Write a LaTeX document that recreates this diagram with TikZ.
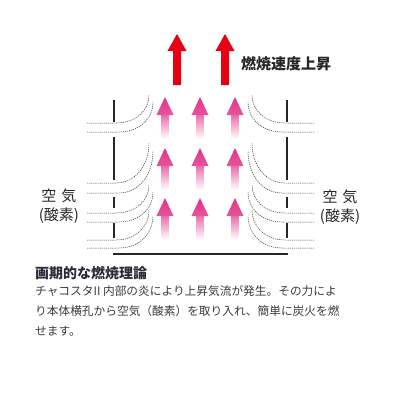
\documentclass[tikz,border=0pt]{standalone}
\usepackage{fontspec}
\setmainfont{Noto Sans CJK JP}
\usetikzlibrary{positioning}
\definecolor{flame}{HTML}{E60012}
\definecolor{rosa}{HTML}{E2358A}
\definecolor{ink}{HTML}{3A3A3A}
\definecolor{headink}{HTML}{2E2A3A}

\begin{document}
\begin{tikzpicture}[x=1pt, y=-1pt,
			every node/.style={inner sep=0pt, text=ink},
			wall/.style={line width=1.3pt, black!85},
			air/.style={dash pattern=on 1.2pt off 0.9pt, line width=0.5pt, black!78},
			airtext/.style={align=center, font=\fontsize{15}{19}\selectfont, text=black!85}]
		\useasboundingbox (0,0) rectangle (400,400);

		\foreach \cx in {177,225}
			\fill[flame] (\cx-4,85) -- (\cx-4,51) -- (\cx-9.5,51) -- (\cx,34)
				-- (\cx+9.5,51) -- (\cx+4,51) -- (\cx+4,85) -- cycle;
		\node[anchor=west, font=\fontsize{15}{15}\selectfont\bfseries, text=black!85] (rate) at (241,64) {燃焼速度上昇};

		\foreach \cx in {165,200,235}
			\foreach \ty in {97,148,198} {
				\shade[top color=rosa!75!white, bottom color=white] (\cx-3.5,\ty+17) rectangle (\cx+3.5,\ty+42);
				\shade[top color=rosa, bottom color=rosa!85!white] (\cx-8.5,\ty+18) -- (\cx,\ty) -- (\cx+8.5,\ty+18) -- cycle;
			}

		\foreach \side in {0,1} {
			\begin{scope}[xshift=\side*401pt, xscale=1-2*\side]
				\foreach \a/\b in {100/122, 137/180, 197/208, 223/238}
					\draw[wall] (114,\a) -- (114,\b);
				\foreach \yy/\xa/\xt/\rr in {123/116/149/28, 132/119/153/30, 183/116/149/40, 193/119/153/42,
						213/116/149/28, 222/119/153/30, 240/116/149/30, 248/119/153/32}
					\draw[air] (87,\yy) -- (\xa,\yy) .. controls (\xa+0.6*\xt-0.6*\xa,\yy) and (\xt,\yy-0.45*\rr) .. (\xt,\yy-\rr);
			\end{scope}
		}
		\draw[wall] (113,254) -- (288,254);

		\node[airtext] (airL) at (59,206) {空\hspace{5pt}気\\(酸素)};
		\node[airtext] (airR) at (340,207) {空\hspace{5pt}気\\(酸素)};

		\node[anchor=west, font=\fontsize{14}{14}\selectfont\bfseries, text=headink] (head) at (35,273) {画期的な燃焼理論};
		\node[anchor=north west, align=left, font=\fontsize{11.7}{20}\selectfont] (body) at (35,285)
			{チャコスタII 内部の炎により上昇気流が発生。その力によ\\り本体横孔から空気（酸素）を取り入れ、簡単に炭火を燃\\せます。};
	\end{tikzpicture}
\end{document}
